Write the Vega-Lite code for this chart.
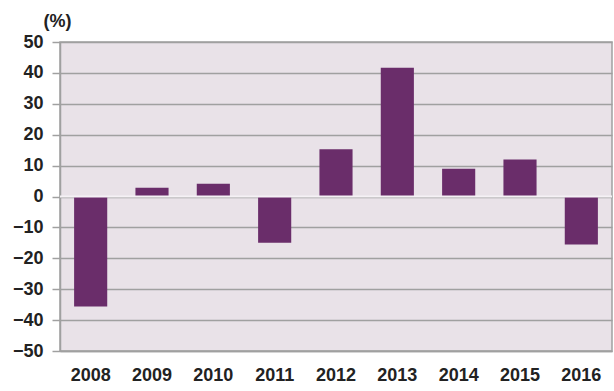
{
  "$schema": "https://vega.github.io/schema/vega-lite/v6.json",
  "width": 552,
  "height": 309,
  "autosize": "none",
  "padding": {"left": 60, "top": 42, "right": 2, "bottom": 40},
  "background": "white",
  "config": {
    "view": {"fill": "#e9e2e8", "stroke": "#a0a0a0", "strokeWidth": 1.5},
    "font": "Liberation Sans",
    "axis": {"labelOverlap": false, "labelFlush": false}
  },
  "data": {
    "values": [
      {"year": "2008", "value": -35.6},
      {"year": "2009", "value": 2.8},
      {"year": "2010", "value": 4.1},
      {"year": "2011", "value": -15.0},
      {"year": "2012", "value": 15.3},
      {"year": "2013", "value": 41.7},
      {"year": "2014", "value": 9.0},
      {"year": "2015", "value": 12.0},
      {"year": "2016", "value": -15.5}
    ]
  },
  "layer": [
    {
      "mark": {"type": "bar", "color": "#6a2d6a"},
      "encoding": {
        "x": {
          "field": "year", "type": "ordinal",
          "scale": {"paddingInner": 0.46, "paddingOuter": 0.23},
          "axis": {
            "title": null, "labelAngle": 0, "ticks": false,
            "domainColor": "#a0a0a0", "domainWidth": 1.5,
            "labelFontSize": 18, "labelFontWeight": "bold", "labelColor": "#222",
            "labelPadding": 15, "labelOverlap": false, "labelFlush": false
          }
        },
        "y": {
          "field": "value", "type": "quantitative",
          "scale": {"domain": [-50, 50], "nice": false},
          "axis": {
            "values": [-50, -40, -30, -20, -10, 0, 10, 20, 30, 40, 50],
            "tickCount": 20,
            "title": "(%)", "titleAngle": 0, "titleAlign": "left", "titleBaseline": "alphabetic",
            "titleX": -17, "titleY": -16, "titleFontSize": 18, "titleFontWeight": "bold", "titleColor": "#222",
            "gridColor": "#a0a0a0", "gridWidth": 1.5, "gridOpacity": 1,
            "tickColor": "#a0a0a0", "tickSize": 8, "tickWidth": 1.5,
            "domainColor": "#a0a0a0", "domainWidth": 1.5,
            "labelFontSize": 18, "labelFontWeight": "bold", "labelColor": "#222",
            "labelPadding": 9, "labelOverlap": false, "labelFlush": false
          }
        }
      }
    },
    {
      "data": {"values": [{"z": 0}]},
      "mark": {"type": "rule", "color": "#f5f1f5", "strokeWidth": 2},
      "encoding": {"y": {"field": "z", "type": "quantitative"}}
    }
  ]
}
